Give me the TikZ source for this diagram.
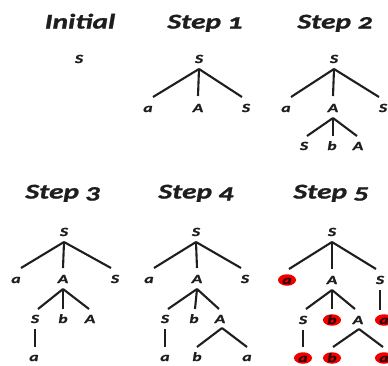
\documentclass[tikz,border=0pt]{standalone}
\usepackage{fontspec}
\setmainfont{Carlito}
\newfontfamily\widefont{Carlito}[FakeStretch=1.4, Numbers=OldStyle, BoldItalicFeatures={FakeBold=1.2}]
\usetikzlibrary{shapes.geometric}
\definecolor{ink}{HTML}{1E1E1E}
\definecolor{hilite}{HTML}{F20000}
\tikzset{
  ttl/.style={font=\widefont\bfseries\itshape\fontsize{21}{21}\selectfont, text=ink, inner sep=0pt, text height=13pt, text depth=0pt},
  sym/.style={font=\widefont\bfseries\itshape\fontsize{12.5}{13}\selectfont, text=ink, inner sep=0pt, text height=8pt, text depth=0pt},
  hl/.style={sym, shape=ellipse, fill=hilite, minimum width=18pt, minimum height=11.5pt, text=black!80!red},
  ln/.style={draw=ink, line width=2.1pt}
}
\begin{document}
\begin{tikzpicture}[x=1pt,y=-1pt]
\useasboundingbox (0,0) rectangle (388,365);
\clip (0,0) rectangle (388,365);
% titles
\node[ttl] (tI) at (80,22) {Initial};
\node[ttl] (t1) at (205,22) {Step 1};
\node[ttl] (t2) at (335,22) {Step 2};
\node[ttl] (t3) at (63,192) {Step 3};
\node[ttl] (t4) at (196,192) {Step 4};
\node[ttl] (t5) at (331,192) {Step 5};
% Initial
\node[sym] (i0) at (79,59) {S};
% Step 1
\node[sym] (a0) at (199,59) {S};
\node[sym] (a1) at (148,108) {a};
\node[sym] (a2) at (198,108) {A};
\node[sym] (a3) at (246,108) {S};
\draw[ln] ([yshift=-10pt]a0.center) -- ([xshift=5pt,yshift=11pt]a1.center);
\draw[ln] ([yshift=-10pt]a0.center) -- ([yshift=12pt]a2.center);
\draw[ln] ([yshift=-10pt]a0.center) -- ([xshift=-4pt,yshift=11pt]a3.center);
% Step 2
\node[sym] (b0) at (334,59) {S};
\node[sym] (b1) at (286,108) {a};
\node[sym] (b2) at (333,108) {A};
\node[sym] (b3) at (383,108) {S};
\node[sym] (b4) at (304,146) {S};
\node[sym] (b5) at (332,146) {b};
\node[sym] (b6) at (358,146) {A};
\draw[ln] ([yshift=-10pt]b0.center) -- ([xshift=5pt,yshift=11pt]b1.center);
\draw[ln] ([yshift=-10pt]b0.center) -- ([yshift=12pt]b2.center);
\draw[ln] ([yshift=-10pt]b0.center) -- ([xshift=-4pt,yshift=11pt]b3.center);
\draw[ln] ([yshift=-10pt]b2.center) -- ([xshift=3pt,yshift=10pt]b4.center);
\draw[ln] ([yshift=-10pt]b2.center) -- ([xshift=1pt,yshift=10pt]b5.center);
\draw[ln] ([yshift=-10pt]b2.center) -- ([xshift=-1pt,yshift=10pt]b6.center);
% Step 3
\node[sym] (c0) at (64,232) {S};
\node[sym] (c1) at (16,279) {a};
\node[sym] (c2) at (63,279) {A};
\node[sym] (c3) at (115,279) {S};
\node[sym] (c4) at (35,319) {S};
\node[sym] (c5) at (63,319) {b};
\node[sym] (c6) at (90,319) {A};
\node[sym] (c7) at (34,357) {a};
\draw[ln] ([yshift=-10pt]c0.center) -- ([xshift=5pt,yshift=11pt]c1.center);
\draw[ln] ([yshift=-10pt]c0.center) -- ([yshift=11pt]c2.center);
\draw[ln] ([yshift=-10pt]c0.center) -- ([xshift=-4pt,yshift=11pt]c3.center);
\draw[ln] ([yshift=-10pt]c2.center) -- ([xshift=3pt,yshift=10pt]c4.center);
\draw[ln] ([yshift=-10pt]c2.center) -- ([yshift=10pt]c5.center);
\draw[ln] ([yshift=-10pt]c2.center) -- ([xshift=-1pt,yshift=10pt]c6.center);
\draw[ln] ([yshift=-10pt]c4.center) -- ([xshift=1pt,yshift=10pt]c7.center);
% Step 4
\node[sym] (d0) at (196,232) {S};
\node[sym] (d1) at (149,279) {a};
\node[sym] (d2) at (197,279) {A};
\node[sym] (d3) at (245,279) {S};
\node[sym] (d4) at (165,319) {S};
\node[sym] (d5) at (194,319) {b};
\node[sym] (d6) at (220,319) {A};
\node[sym] (d7) at (165,357) {a};
\node[sym] (d8) at (197,357) {b};
\node[sym] (d9) at (247,357) {a};
\draw[ln] ([yshift=-10pt]d0.center) -- ([xshift=5pt,yshift=11pt]d1.center);
\draw[ln] ([yshift=-10pt]d0.center) -- ([yshift=11pt]d2.center);
\draw[ln] ([yshift=-10pt]d0.center) -- ([xshift=-4pt,yshift=11pt]d3.center);
\draw[ln] ([yshift=-10pt]d2.center) -- ([xshift=3pt,yshift=10pt]d4.center);
\draw[ln] ([yshift=-10pt]d2.center) -- ([xshift=1pt,yshift=10pt]d5.center);
\draw[ln] ([yshift=-10pt]d2.center) -- ([xshift=-1pt,yshift=10pt]d6.center);
\draw[ln] ([yshift=-10pt]d4.center) -- ([yshift=10pt]d7.center);
\draw[ln] ([xshift=2pt,yshift=-9pt]d6.center) -- ([yshift=10pt]d8.center);
\draw[ln] ([xshift=2pt,yshift=-9pt]d6.center) -- ([yshift=10pt]d9.center);
% Step 5
\node[sym] (e0) at (332,232) {S};
\node[hl]  (e1) at (287,280) {a};
\node[sym] (e2) at (332,280) {A};
\node[sym] (e3) at (380,280) {S};
\node[sym] (e4) at (303,320) {S};
\node[hl]  (e5) at (332,320) {b};
\node[sym] (e6) at (358,320) {A};
\node[hl]  (e7) at (384,320) {a};
\node[hl]  (e8) at (303,358) {a};
\node[hl]  (e9) at (332,358) {b};
\node[hl]  (e10) at (384,358) {a};
\draw[ln] ([yshift=-10pt]e0.center) -- ([xshift=2pt,yshift=11pt]e1.center);
\draw[ln] ([yshift=-10pt]e0.center) -- ([yshift=11pt]e2.center);
\draw[ln] ([yshift=-10pt]e0.center) -- ([xshift=-4pt,yshift=11pt]e3.center);
\draw[ln] ([yshift=-10pt]e2.center) -- ([xshift=3pt,yshift=11pt]e4.center);
\draw[ln] ([yshift=-10pt]e2.center) -- ([yshift=11pt]e5.center);
\draw[ln] ([yshift=-10pt]e2.center) -- ([xshift=-3pt,yshift=11pt]e6.center);
\draw[ln] ([yshift=-10pt]e3.center) -- ([xshift=-4pt,yshift=10pt]e7.center);
\draw[ln] ([yshift=-10pt]e4.center) -- ([yshift=11pt]e8.center);
\draw[ln] ([xshift=1pt,yshift=-9pt]e6.center) -- ([xshift=1pt,yshift=11pt]e9.center);
\draw[ln] ([xshift=1pt,yshift=-9pt]e6.center) -- ([xshift=-1pt,yshift=11pt]e10.center);
\end{tikzpicture}
\end{document}
